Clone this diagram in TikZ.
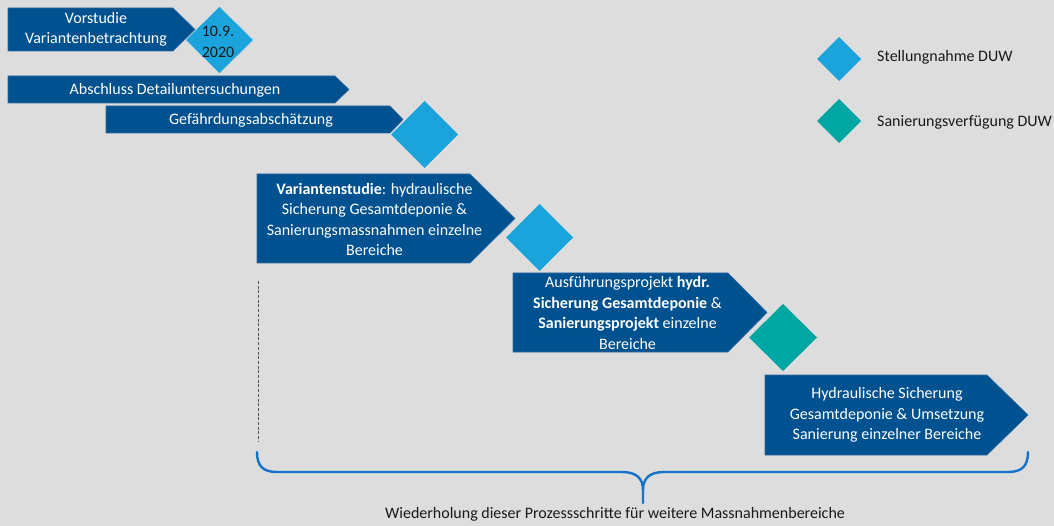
\documentclass[tikz,border=0pt]{standalone}
\usepackage{fontspec}
\setmainfont{Carlito}
\begin{document}
\definecolor{bgray}{HTML}{DDDDDD}
\definecolor{stepblue}{HTML}{00518F}
\definecolor{stepedge}{HTML}{2E6AA0}
\definecolor{milelight}{HTML}{1BA4DC}
\definecolor{mileteal}{HTML}{00A6A1}
\definecolor{bracecol}{HTML}{1273C8}
\definecolor{dotcol}{HTML}{555555}
\begin{tikzpicture}[x=1pt,y=-1pt,
  chevron/.style={fill=stepblue,draw=stepedge,line width=0.6pt},
  stelle/.style={fill=milelight},
  verfueg/.style={fill=mileteal},
  steptext/.style={text=white,align=center,inner sep=0pt,font=\fontsize{16}{20.5}\selectfont},
  plaintext/.style={text=black!90,inner sep=0pt,font=\fontsize{16}{20.5}\selectfont},
  bracket/.style={draw=bracecol,line width=2.4pt,line cap=round}]
% canvas
\fill[bgray] (0,0) rectangle (1054,526);
\useasboundingbox (0,0) rectangle (1054,526);

% process steps (chevrons)
\path[chevron] (8,8) -- (173,8) -- (195,29.5) -- (173,51) -- (8,51) -- cycle;
\path[chevron] (8,76) -- (335,76) -- (349,89.5) -- (335,103) -- (8,103) -- cycle;
\path[chevron] (106,106) -- (390,106) -- (403,119.5) -- (390,133) -- (106,133) -- cycle;
\path[chevron] (257,174) -- (470,174) -- (515,218.5) -- (470,263) -- (257,263) -- cycle;
\path[chevron] (513,273) -- (728,273) -- (767,312.5) -- (728,352) -- (513,352) -- cycle;
\path[chevron] (765,375) -- (987,375) -- (1028,415) -- (987,455) -- (765,455) -- cycle;

% milestones
\path[stelle] (186,40) -- (219.5,7) -- (253,40) -- (219.5,73) -- cycle;
\path[stelle] (391,134.5) -- (424.5,101) -- (458,134.5) -- (424.5,168) -- cycle;
\path[stelle] (506,237.5) -- (539.5,204) -- (573,237.5) -- (539.5,271) -- cycle;
\path[verfueg] (749,337.5) -- (783,304) -- (817,337.5) -- (783,371) -- cycle;

% legend symbols
\path[stelle] (817,59) -- (839,37) -- (861,59) -- (839,81) -- cycle;
\path[verfueg] (817,121) -- (839,99) -- (861,121) -- (839,143) -- cycle;

% step labels
\node[steptext] (vorstudie) at (96,29.5) {Vorstudie\\Variantenbetrachtung};
\node[plaintext,align=center] (datum) at (218,42) {10.9.\\2020};
\node[steptext] (abschluss) at (175,90) {Abschluss Detailuntersuchungen};
\node[steptext] (gefahr) at (251,120) {Gefährdungsabschätzung};
\node[steptext] (variant) at (374.5,219.5) {\textbf{Variantenstudie}: hydraulische\\Sicherung Gesamtdeponie \&\\Sanierungsmassnahmen einzelne\\Bereiche};
\node[steptext] (ausfuehr) at (627.5,313) {Ausführungsprojekt \textbf{hydr.}\\\textbf{Sicherung Gesamtdeponie} \&\\\textbf{Sanierungsprojekt} einzelne\\Bereiche};
\node[steptext] (umsetz) at (887,415) {Hydraulische Sicherung\\Gesamtdeponie \& Umsetzung\\Sanierung einzelner Bereiche};

% legend labels
\node[plaintext,anchor=west] (legstell) at (877,57) {Stellungnahme DUW};
\node[plaintext,anchor=west] (legsan) at (877,122) {Sanierungsverfügung DUW};

% repetition bracket
\coordinate (dottop) at (258,281);
\coordinate (dotbot) at (258,441);
\draw[dotcol,line width=1pt,dash pattern=on 3pt off 1.7pt] (dottop) -- (dotbot);
\coordinate (bl) at (257,452);
\coordinate (br) at (1028,452);
\coordinate (tip) at (643,503);
\draw[bracket] (bl) .. controls (257,466) and (263,472) .. (277,472) -- (622,472)
  .. controls (636,472) and (643,478) .. (643,490) -- (tip);
\draw[bracket] (br) .. controls (1028,466) and (1022,472) .. (1008,472) -- (664,472)
  .. controls (650,472) and (643,478) .. (643,490);
\node[plaintext] (wiederh) at (615,514) {Wiederholung dieser Prozessschritte für weitere Massnahmenbereiche};
\end{tikzpicture}
\end{document}
